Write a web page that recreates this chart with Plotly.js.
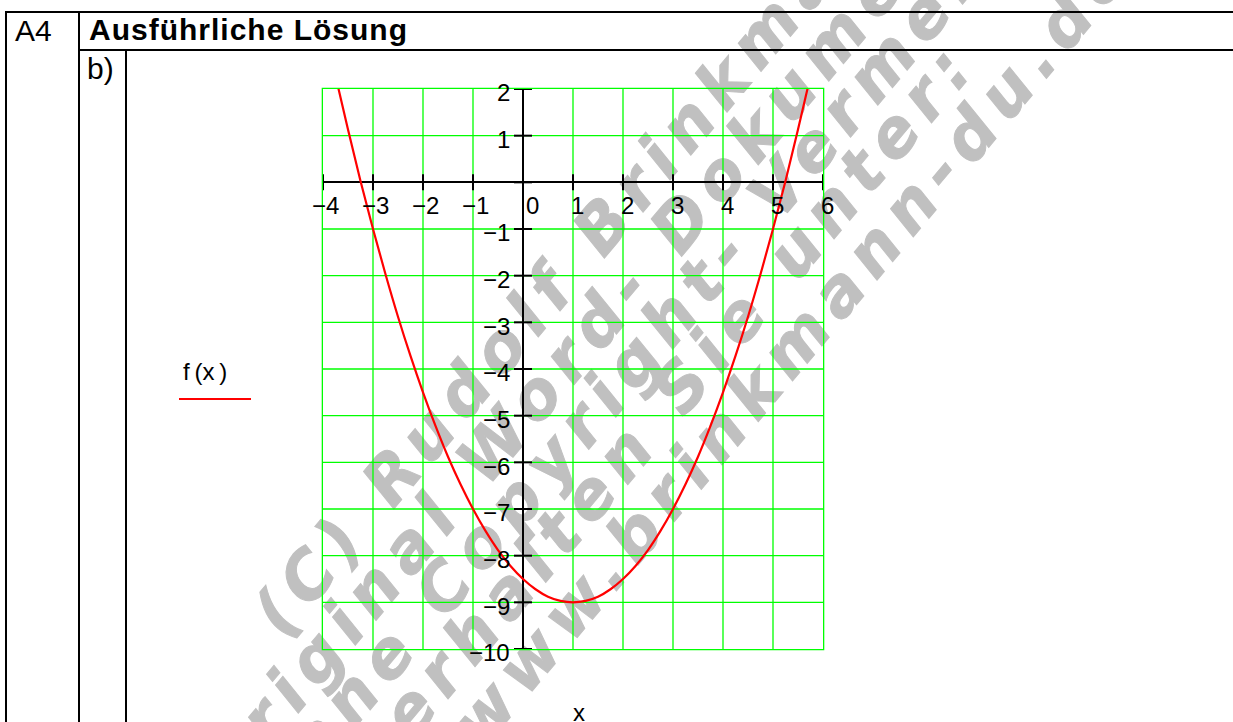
<!DOCTYPE html>
<html>
<head>
<meta charset="utf-8">
<script src="https://cdn.plot.ly/plotly-3.0.1.min.js"></script>
<style>
  html, body { margin: 0; padding: 0; background: #ffffff; }
  #page { position: relative; width: 1233px; height: 722px; overflow: hidden; background: #ffffff; }
  #chart { position: absolute; left: 0; top: 0; width: 1233px; height: 722px; z-index: 1; }
  #chart .gridlayer path, #chart .xlines-above, #chart .ylines-above,
  #chart .xlines-below, #chart .ylines-below { shape-rendering: geometricPrecision !important; }
  .rule { position: absolute; background: #000000; z-index: 2; }
  .cell { position: absolute; z-index: 2; font-family: "Liberation Sans", Arial, sans-serif;
          font-size: 30px; line-height: 1; color: #000000; white-space: nowrap; }
  .wm { position: absolute; left: 0; top: 0; z-index: 0; white-space: nowrap;
        font-family: "DejaVu Sans", "Liberation Sans", sans-serif; font-style: italic; font-weight: 700;
        font-size: 65px; line-height: 1; color: #c0c0c0; letter-spacing: 10px;
        -webkit-text-stroke: 1px #c0c0c0; transform-origin: 0 0; }
</style>
</head>
<body>
<div id="page">
  <!-- background notice text -->
  <div class="wm" style="transform: translate(284px,640px) rotate(-50deg) translate(0,-0.846em)">(C) Rudolf Brinkmann</div>
  <div class="wm" style="transform: translate(228px,797px) rotate(-50deg) translate(0,-0.846em)">Original Word- Dokumente</div>
  <div class="wm" style="transform: translate(282px,815px) rotate(-50deg) translate(0,-0.846em)">ohne Copyright- Vermerk</div>
  <div class="wm" style="transform: translate(412px,742px) rotate(-50deg) translate(0,-0.846em)">erhalten Sie unter:</div>
  <div class="wm" style="transform: translate(482px,751px) rotate(-50deg) translate(0,-0.846em)">www.brinkmann-du.de</div>

  <!-- table frame -->
  <div class="rule" style="left:5px; top:11px; width:1228px; height:2px"></div>
  <div class="rule" style="left:5px; top:11px; width:2px; height:711px"></div>
  <div class="rule" style="left:78px; top:11px; width:2px; height:711px"></div>
  <div class="rule" style="left:78px; top:49px; width:1155px; height:2px"></div>
  <div class="rule" style="left:125px; top:49px; width:2px; height:673px"></div>

  <div class="cell" style="left:15px; top:16px">A4</div>
  <div class="cell" style="left:89px; top:15px; font-weight:bold; letter-spacing:1px">Ausführliche Lösung</div>
  <div class="cell" style="left:87px; top:54px">b)</div>

  <div id="chart"></div>
</div>

<script>
// f(x) sampled along the visible arc
const xs = [-3.75, -3.5, -3.25, -3, -2.75, -2.5, -2.25, -2, -1.75, -1.5, -1.25, -1,
            -0.75, -0.5, -0.25, 0, 0.25, 0.5, 0.75, 1, 1.25, 1.5, 1.75, 2,
            2.25, 2.5, 2.75, 3, 3.25, 3.5, 3.75, 4, 4.25, 4.5, 4.75, 5, 5.25, 5.5, 5.75];
const ys = [2.28, 1.13, 0.03, -1, -1.97, -2.88, -3.72, -4.5, -5.22, -5.88, -6.47, -7,
            -7.47, -7.88, -8.22, -8.5, -8.72, -8.88, -8.97, -9, -8.97, -8.88, -8.72, -8.5,
            -8.22, -7.88, -7.47, -7, -6.47, -5.88, -5.22, -4.5, -3.72, -2.88, -1.97, -1, 0.03, 1.13, 2.28];

// axis ticks and their labels
const xTickVals = [-4, -3, -2, -1, 0, 1, 2, 3, 4, 5, 6];
const xTickText = ['\u22124', '\u22123', '\u22122', '\u22121', '0', '1', '2', '3', '4', '5', '6'];
const yTickVals = [2, 1, 0, -1, -2, -3, -4, -5, -6, -7, -8, -9, -10];
const yLabelVals = [2, 1, -1, -2, -3, -4, -5, -6, -7, -8, -9, -10];
const yLabelText = ['2', '1', '\u22121', '\u22122', '\u22123', '\u22124', '\u22125', '\u22126', '\u22127', '\u22128', '\u22129', '\u221210'];

const seriesName = 'f\u2009(x\u2009)';
const xName = 'x';

const FONT = '"Liberation Sans", Arial, sans-serif';
const GREEN = '#00ff00';
const RED = '#ff0000';

// plot box in page pixels
const L = 323, R = 823, T = 89, B = 649;
const W = 1233, H = 722;
const px = (p) => (p - L) / (R - L);
const py = (p) => (B - p) / (B - T);

const shapes = [];
xTickVals.forEach(v => shapes.push({
  type: 'line', xref: 'x', yref: 'y', x0: v, x1: v,
  ysizemode: 'pixel', yanchor: 0, y0: -8, y1: 8,
  line: { color: '#000000', width: 2 }
}));
yTickVals.forEach(v => shapes.push({
  type: 'line', xref: 'x', yref: 'y', y0: v, y1: v,
  xsizemode: 'pixel', xanchor: 0, x0: -9, x1: 9,
  line: { color: '#000000', width: 2 }
}));
// legend stroke under the function name
shapes.push({
  type: 'line', xref: 'paper', yref: 'paper',
  x0: px(179), x1: px(251), y0: py(399), y1: py(399),
  line: { color: RED, width: 2 }
});

const annotations = [];
xTickVals.forEach((v, i) => {
  let shift;
  if (v < 0) shift = -12.5;
  else if (v === 0) shift = 2;
  else shift = -3;
  annotations.push({
    xref: 'x', yref: 'y', x: v, y: 0, text: xTickText[i],
    showarrow: false, xanchor: 'left', yanchor: 'top',
    xshift: shift, yshift: -8.6, borderpad: 0,
    font: { family: FONT, size: 24, color: '#000000' }
  });
});
yLabelVals.forEach((v, i) => {
  annotations.push({
    xref: 'x', yref: 'y', x: 0, y: v, text: yLabelText[i],
    showarrow: false, xanchor: 'right', yanchor: 'middle',
    xshift: -11.8, yshift: -3.8, borderpad: 0,
    font: { family: FONT, size: 24, color: '#000000' }
  });
});
annotations.push({
  xref: 'paper', yref: 'paper', x: px(205), y: py(371), text: seriesName,
  showarrow: false, xanchor: 'center', yanchor: 'middle', borderpad: 0,
  font: { family: FONT, size: 24, color: '#000000' }
});
annotations.push({
  xref: 'paper', yref: 'paper', x: px(578.5), y: py(697.7), text: xName,
  showarrow: false, xanchor: 'center', yanchor: 'top', borderpad: 0,
  font: { family: FONT, size: 24, color: '#000000' }
});

const trace = {
  x: xs, y: ys, type: 'scatter', mode: 'lines',
  line: { color: RED, width: 2.2, shape: 'spline', smoothing: 1 },
  hoverinfo: 'skip', showlegend: false
};

const axisCommon = {
  showgrid: true, gridcolor: GREEN, gridwidth: 1.3,
  showline: true, linecolor: GREEN, linewidth: 1.3, mirror: true,
  zeroline: true, zerolinecolor: '#000000', zerolinewidth: 2,
  showticklabels: false, ticks: '', dtick: 1, tick0: 0, fixedrange: true
};

const layout = {
  width: W, height: H,
  margin: { l: L, r: W - R, t: T, b: H - B, pad: 0 },
  paper_bgcolor: 'rgba(0,0,0,0)', plot_bgcolor: 'rgba(0,0,0,0)',
  showlegend: false,
  xaxis: Object.assign({}, axisCommon, { range: [-4, 6] }),
  yaxis: Object.assign({}, axisCommon, { range: [-10, 2] }),
  shapes: shapes,
  annotations: annotations,
  font: { family: FONT }
};

Plotly.newPlot('chart', [trace], layout, { displayModeBar: false, staticPlot: true });
</script>
</body>
</html>
